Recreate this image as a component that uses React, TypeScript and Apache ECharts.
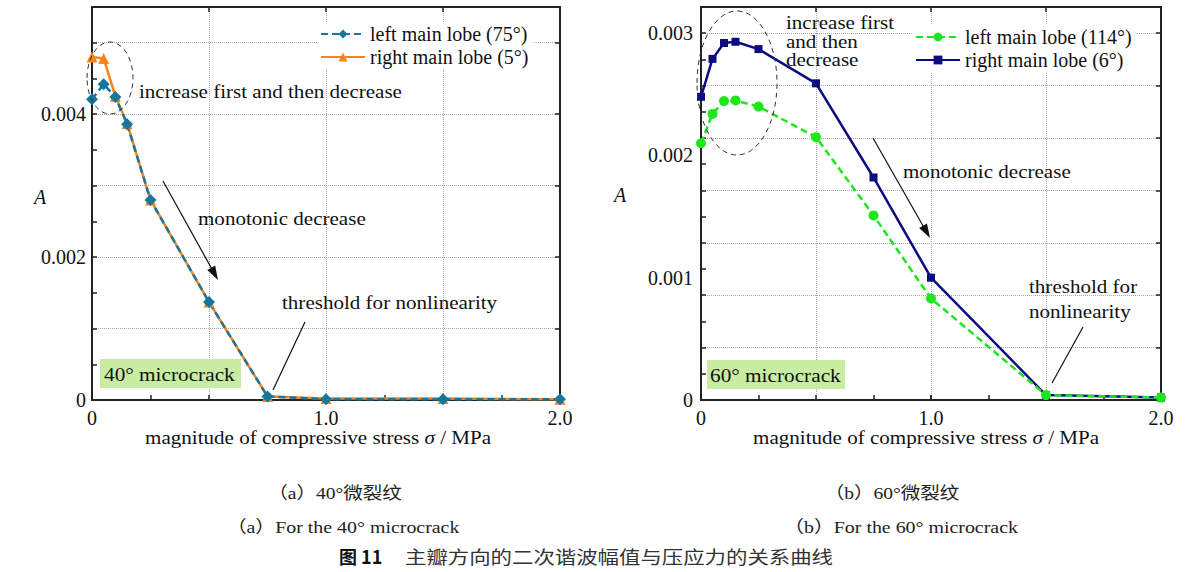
import React, { useEffect, useRef } from 'react';
import * as echarts from 'echarts';

// ---- data ----
const stress = [0, 0.05, 0.1, 0.15, 0.25, 0.5, 0.75, 1.0, 1.5, 2.0];
// (a) 40° microcrack
const leftLobe75 = [0.00421, 0.00442, 0.00424, 0.00386, 0.0028, 0.00137, 0.00005, 0.00001, 0.00001, 0.00001];
const rightLobe5 = [0.0048, 0.00478, 0.00425, 0.00387, 0.0028, 0.00137, 0.00005, 0.00002, 0.00002, 0.00001];
// (b) 60° microcrack
const leftLobe114 = [0.0021, 0.00234, 0.002445, 0.00245, 0.0024, 0.00215, 0.00151, 0.00083, 0.00004, 0.00002];
const rightLobe6 = [0.00248, 0.00279, 0.00292, 0.00293, 0.00287, 0.00259, 0.00182, 0.001, 0.00004, 0.00002];

const seriesNames40 = ['left main lobe (75°)', 'right main lobe (5°)'];
const seriesNames60 = ['left main lobe (114°)', 'right main lobe (6°)'];

const yMax40 = 0.0055;
const yMax60 = (0.003 * 15) / 14;

const SERIF = '"Liberation Serif", "Times New Roman", "Noto Sans CJK SC", serif';
const CJK = '"Liberation Serif", "Noto Sans CJK SC", serif';
const SX = 1.17;

const BLUE = '#17769b';
const ORANGE = '#f8831b';
const NAVY = '#0b0b82';
const GREEN = '#1de61d';

function axis(gridIndex: number, position: string, min: number, max: number, interval: number, opt: any = {}) {
  return {
    type: 'value',
    gridIndex,
    position,
    min,
    max,
    interval,
    axisLine: { show: opt.line !== false, onZero: false, lineStyle: { color: '#222', width: 2 } },
    axisTick: { show: opt.tick !== false, inside: true, length: 5, lineStyle: { color: '#222', width: 1.5 } },
    axisLabel: opt.labels
      ? {
          show: true,
          fontSize: 20,
          fontFamily: SERIF,
          color: '#111',
          margin: opt.margin ?? 8,
          formatter: opt.formatter,
        }
      : { show: false },
    splitLine: { show: !!opt.split, lineStyle: { type: 'dotted', color: '#a8a8a8', width: 1 } },
  };
}

const xFmt = (v: number) => (v === 0 ? '0' : Math.abs(v - Math.round(v)) > 1e-9 ? '' : v.toFixed(1));
const yFmt = (v: number) => {
  if (v === 0) return '0';
  const k = v / 0.001;
  if (Math.abs(k - Math.round(k)) > 1e-6) return '';
  return v.toFixed(3);
};

function T(x: number, y: number, text: string, o: any = {}) {
  return {
    type: 'text',
    x,
    y,
    scaleX: o.sx ?? SX,
    z: 30,
    style: {
      text,
      fontSize: o.size ?? 18,
      fontFamily: o.family ?? SERIF,
      fontStyle: o.italic ? 'italic' : 'normal',
      fontWeight: o.bold ? 'bold' : 'normal',
      fill: o.color ?? '#111',
      textAlign: o.align ?? 'left',
      textVerticalAlign: 'middle',
      align: o.align ?? 'left',
      verticalAlign: 'middle',
      rich: o.rich,
    },
  };
}

function L(x1: number, y1: number, x2: number, y2: number) {
  return { type: 'line', z: 30, shape: { x1, y1, x2, y2 }, style: { stroke: '#111', lineWidth: 1.2 } };
}

function arrow(x1: number, y1: number, x2: number, y2: number) {
  const dx = x2 - x1;
  const dy = y2 - y1;
  const len = Math.sqrt(dx * dx + dy * dy);
  const ux = dx / len;
  const uy = dy / len;
  const hl = 14;
  const hw = 4.5;
  const bx = x2 - ux * hl;
  const by = y2 - uy * hl;
  return [
    L(x1, y1, bx + ux * 3, by + uy * 3),
    {
      type: 'polygon',
      z: 30,
      shape: {
        points: [
          [x2, y2],
          [bx - uy * hw, by + ux * hw],
          [bx + uy * hw, by - ux * hw],
        ],
      },
      style: { fill: '#111' },
    },
  ];
}

function ellipse(cx: number, cy: number, rx: number, ry: number) {
  return {
    type: 'ellipse',
    z: 30,
    shape: { cx, cy, rx, ry },
    style: { fill: 'none', stroke: '#333', lineWidth: 1, lineDash: [5, 4] },
  };
}

function xName(cx: number, y: number) {
  return T(cx, y, '{n|magnitude of compressive stress }{i|σ}{n| / MPa}', {
    align: 'center',
    rich: {
      n: { fontSize: 18, fontFamily: SERIF, fill: '#111', color: '#111' },
      i: { fontSize: 18, fontFamily: SERIF, fontStyle: 'italic', fill: '#111', color: '#111' },
    },
  });
}

function lineSeries(name: string, xi: number, ys: number[], color: string, symbol: string, size: number, dashed: boolean) {
  return {
    name,
    type: 'line',
    xAxisIndex: xi,
    yAxisIndex: xi,
    data: stress.map((x, i) => [x, ys[i]]),
    symbol,
    symbolSize: size,
    showAllSymbol: true,
    lineStyle: { color, width: 2.5, type: dashed ? [7, 4] : 'solid' },
    itemStyle: { color },
    z: 2,
  };
}

export default function App() {
  const ref = useRef<HTMLDivElement>(null);

  useEffect(() => {
    if (!ref.current) return;
    const chart = echarts.init(ref.current, null, { renderer: 'svg' });

    const option: any = {
      animation: false,
      backgroundColor: '#fff',
      grid: [
        { left: 92, top: 7, width: 468, height: 393 },
        { left: 701, top: 7, width: 460, height: 393 },
      ],
      xAxis: [
        axis(0, 'bottom', 0, 2, 1, { labels: true, formatter: xFmt }),
        axis(0, 'bottom', 0, 2, 0.25, { line: false }),
        axis(0, 'top', 0, 2, 0.5, { split: true }),
        axis(1, 'bottom', 0, 2, 1, { labels: true, formatter: xFmt }),
        axis(1, 'bottom', 0, 2, 0.25, { line: false }),
        axis(1, 'top', 0, 2, 0.5, { split: true }),
      ],
      yAxis: [
        axis(0, 'left', 0, yMax40, 0.002, { labels: true, tick: false, formatter: yFmt, margin: 6 }),
        axis(0, 'left', 0, yMax40, 0.0005, { line: false }),
        axis(0, 'right', 0, yMax40, 0.001, { split: true }),
        axis(1, 'left', 0, yMax60, 0.001, { labels: true, tick: false, formatter: yFmt, margin: 8 }),
        axis(1, 'left', 0, yMax60, 0.003 / 14, { line: false }),
        axis(1, 'right', 0, yMax60, 0.003 / 7, { split: true }),
      ],
      legend: [
        {
          data: seriesNames40,
          orient: 'vertical',
          left: 318,
          top: 22,
          itemWidth: 44,
          itemHeight: 11,
          itemGap: 3,
          padding: [2, 4, 2, 2],
          backgroundColor: '#fff',
          textStyle: { fontSize: 20, fontFamily: SERIF, color: '#111' },
        },
        {
          data: seriesNames60,
          orient: 'vertical',
          left: 913,
          top: 25,
          itemWidth: 44,
          itemHeight: 11,
          itemGap: 3,
          padding: [2, 4, 2, 2],
          backgroundColor: '#fff',
          textStyle: { fontSize: 20, fontFamily: SERIF, color: '#111' },
        },
      ],
      series: [
        lineSeries(seriesNames40[1], 0, rightLobe5, ORANGE, 'triangle', 11, false),
        lineSeries(seriesNames40[0], 0, leftLobe75, BLUE, 'diamond', 12, true),
        lineSeries(seriesNames60[1], 3, rightLobe6, NAVY, 'rect', 8, false),
        lineSeries(seriesNames60[0], 3, leftLobe114, GREEN, 'circle', 10, true),
      ],
      graphic: [
        // (a) annotations
        ellipse(110, 78, 23, 36),
        T(139, 92, 'increase first and then decrease'),
        ...arrow(163, 181, 218, 280),
        T(198, 219, 'monotonic decrease'),
        L(273, 390, 305, 322),
        T(282, 303, 'threshold for nonlinearity'),
        { type: 'rect', z: 25, shape: { x: 100, y: 359, width: 141, height: 29 }, style: { fill: '#c8eca2' } },
        T(104, 374, '40° microcrack', { size: 19, sx: 1.12 }),
        T(40, 197, 'A', { italic: true, size: 20, align: 'center', sx: 1 }),
        xName(318, 438),
        // (b) annotations
        ellipse(737, 83, 40, 72),
        T(786, 23, 'increase first'),
        T(786, 42, 'and then'),
        T(786, 60, 'decrease'),
        ...arrow(873, 138, 930, 238),
        T(903, 172, 'monotonic decrease'),
        L(1052, 383, 1083, 327),
        T(1029, 287, 'threshold for'),
        T(1029, 312, 'nonlinearity'),
        { type: 'rect', z: 25, shape: { x: 707, y: 360, width: 138, height: 29 }, style: { fill: '#c8eca2' } },
        T(710, 375, '60° microcrack', { size: 19, sx: 1.12 }),
        T(620, 195, 'A', { italic: true, size: 20, align: 'center', sx: 1 }),
        xName(926, 438),
        // captions
        T(335, 493, '（a）40°微裂纹', { size: 17, family: CJK, align: 'center', color: '#222', sx: 1.15 }),
        T(343, 527, '（a）For the 40° microcrack', { size: 17, family: CJK, align: 'center', color: '#222', sx: 1.17 }),
        T(892, 493, '（b）60°微裂纹', { size: 17, family: CJK, align: 'center', color: '#222', sx: 1.15 }),
        T(901, 527, '（b）For the 60° microcrack', { size: 17, family: CJK, align: 'center', color: '#222', sx: 1.17 }),
        T(339, 556, '图 11', { size: 18, family: '"Noto Sans CJK SC", sans-serif', bold: true, color: '#111', sx: 1 }),
        T(405, 556, '主瓣方向的二次谐波幅值与压应力的关系曲线', {
          size: 18,
          family: '"Noto Sans CJK SC", sans-serif',
          color: '#333',
          sx: 1.19,
        }),
      ],
    };

    chart.setOption(option);
    return () => chart.dispose();
  }, []);

  return (
    <div
      ref={ref}
      style={{ position: 'absolute', left: 0, top: 0, width: 1193, height: 572, background: '#fff' }}
    />
  );
}
